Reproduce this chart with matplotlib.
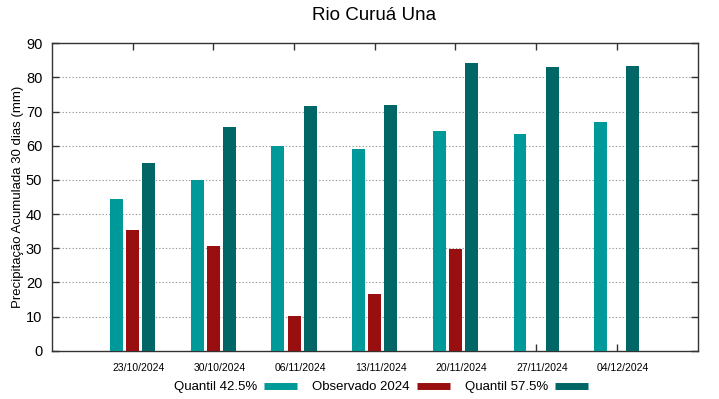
import matplotlib.pyplot as plt
import matplotlib.transforms as mtransforms
from matplotlib.lines import Line2D
import numpy as np

plt.rcParams['font.family'] = ['Liberation Sans', 'DejaVu Sans']

# data
datas = ['23/10/2024', '30/10/2024', '06/11/2024', '13/11/2024',
         '20/11/2024', '27/11/2024', '04/12/2024']
quantil_425 = [44.3, 50.1, 60.0, 59.1, 64.4, 63.4, 67.0]
observado_2024 = [35.4, 30.7, 10.2, 16.7, 29.7, np.nan, np.nan]
quantil_575 = [54.9, 65.6, 71.7, 71.9, 84.2, 83.1, 83.4]

c_q1 = '#009999'
c_obs = '#990f0f'
c_q2 = '#006666'

fig = plt.figure(figsize=(7.19, 3.99), dpi=100)
ax = fig.add_axes([52/719, 1 - 350.7/399, (697.5 - 52)/719, (350.7 - 43.3)/399])

x = np.arange(len(datas))
w = 0.16
ax.bar(x - 0.2, quantil_425, w, color=c_q1, zorder=3)
ax.bar(x, observado_2024, w, color=c_obs, zorder=3)
ax.bar(x + 0.2, quantil_575, w, color=c_q2, zorder=3)

ax.set_xlim(-1, 7)
ax.set_ylim(0, 90)
ax.set_yticks(range(0, 91, 10))
ax.set_xticks(x)
ax.set_xticklabels(datas, fontsize=7.5)

# gnuplot-like dotted grid, only on the inner y ticks
for v in range(10, 90, 10):
    ax.axhline(v, color='#9a9a9a', lw=0.8, ls=(0, (1.2, 1.8)), zorder=1)

ax.tick_params(axis='both', direction='in', length=5, width=1, color='#333333',
               top=True, right=True)
ax.tick_params(axis='y', labelsize=10.5, pad=7)
ax.tick_params(axis='x', pad=9)
off = mtransforms.ScaledTranslation(6/100, 0, fig.dpi_scale_trans)
for lab in ax.get_xticklabels():
    lab.set_transform(lab.get_transform() + off)

for s in ax.spines.values():
    s.set_color('#333333')
    s.set_linewidth(1)

ax.set_ylabel('Precipitação Acumulada 30 dias (mm)', fontsize=9.5, labelpad=1.5)
fig.text(374.5/719, 1 - 16/399, 'Rio Curuá Una', fontsize=13.5,
         ha='center', va='center')

handles = [Line2D([], [], color=c, lw=5, solid_capstyle='butt')
           for c in (c_q1, c_obs, c_q2)]
fig.legend(handles, ['Quantil 42.5%', 'Observado 2024', 'Quantil 57.5%'],
           loc='center', bbox_to_anchor=(381/719, 1 - 387/399), ncol=3,
           frameon=False, markerfirst=False, fontsize=9.5,
           handlelength=2.5, handletextpad=0.5, columnspacing=1.2)

plt.savefig('out.png', dpi=100)
